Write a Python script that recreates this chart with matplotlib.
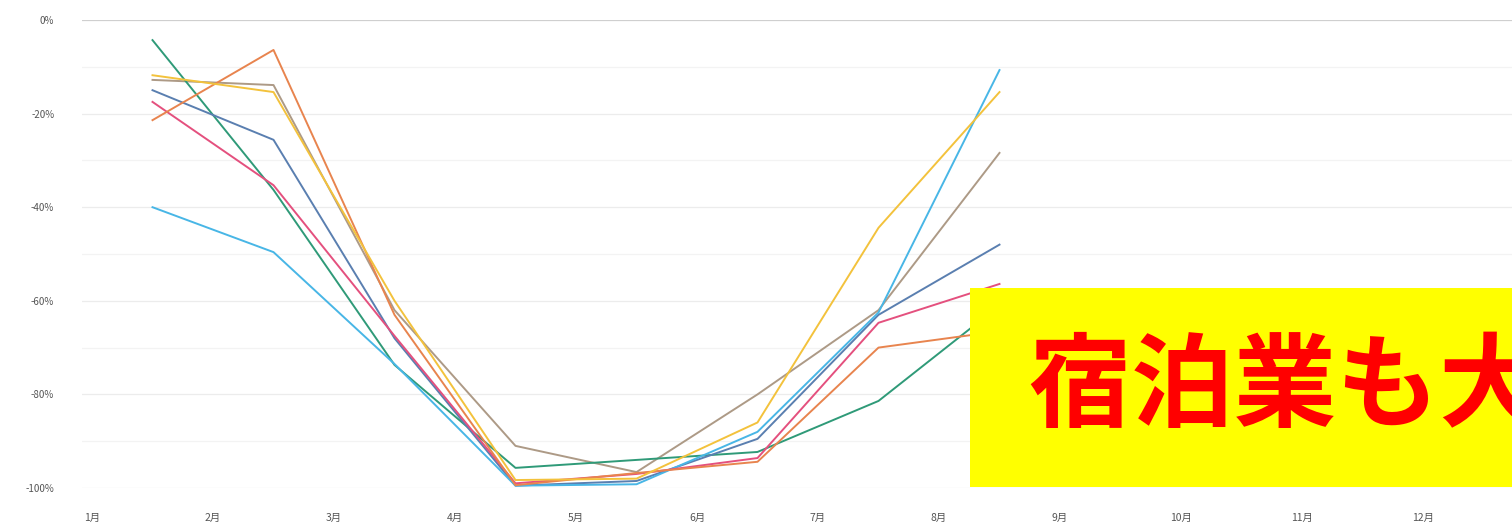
import matplotlib
matplotlib.use("Agg")
import matplotlib.pyplot as plt
from matplotlib.patches import Rectangle

plt.rcParams['font.family'] = ['Noto Sans CJK JP', 'DejaVu Sans']

month_labels = ["1月", "2月", "3月", "4月", "5月", "6月", "7月", "8月", "9月", "10月", "11月", "12月"]
y_ticks = [0, -20, -40, -60, -80, -100]
y_tick_labels = ["0%", "-20%", "-40%", "-60%", "-80%", "-100%"]

# month index of data points (Jan..Aug), values in %
months = [0, 1, 2, 3, 4, 5, 6, 7]
s_cyan = [-40, -49.6, -73.5, -99.5, -99.2, -88, -62.5, -10.7]
s_blue = [-15, -25.6, -68, -99.5, -98.5, -89.5, -63, -48]
s_pink = [-17.5, -35.3, -67.5, -99.0, -97.0, -93.6, -64.7, -56.4]
s_teal = [-4.3, -36.3, -73.7, -95.7, -94.0, -92.3, -81.4, -61]
s_orange = [-21.4, -6.4, -63, -99.4, -96.8, -94.4, -70, -66.5]
s_yellow = [-11.8, -15.4, -60, -98.3, -98.0, -86, -44.4, -15.4]
s_tan = [-12.8, -13.9, -62, -91.0, -96.6, -80, -62, -28.4]

series = [
    (s_tan, "#ad9a86"),
    (s_teal, "#2f9a78"),
    (s_blue, "#5a7fb0"),
    (s_cyan, "#48b6e6"),
    (s_pink, "#e4507e"),
    (s_orange, "#e8844e"),
    (s_yellow, "#f3c23c"),
]

W, H = 1512, 523
fig = plt.figure(figsize=(W / 100, H / 100), dpi=100)
ax = fig.add_axes([82 / W, (H - 488) / H, (W - 82) / W, 468 / H])

xs = [m + 0.5 for m in months]
for vals, col in series:
    ax.plot(xs, vals, color=col, lw=1.4, clip_on=False, zorder=3)

ax.set_xlim((82 - 92) / 121, (W - 92) / 121)
ax.set_ylim(-100, 0)

for v in range(-90, 0, 10):
    ax.axhline(v, color="#f3f3f3" if v % 20 else "#ececec", lw=0.9, zorder=1)
ax.axhline(-100, color="#ececec", lw=0.9, zorder=1)
ax.axhline(0, color="#cfcfcf", lw=1.6, zorder=2)

ax.set_xticks(range(12))
ax.set_xticklabels(month_labels, fontsize=7.5, color="#555555")
ax.set_yticks(y_ticks)
ax.set_yticklabels(y_tick_labels, fontsize=7, color="#555555")
ax.tick_params(length=0)
ax.tick_params(axis='x', pad=18)
ax.tick_params(axis='y', pad=20)
for sp in ax.spines.values():
    sp.set_visible(False)

fig.patches.append(Rectangle((970 / W, (H - 487) / H), (W - 970) / W, 199 / H,
                             transform=fig.transFigure, facecolor="#ffff00",
                             edgecolor="none", zorder=10))
fig.text(1028 / W, (H - 419) / H, "宿泊業も大打撃", color="#ff0000", fontsize=74,
         fontweight="bold", ha="left", va="baseline", zorder=11)

fig.savefig("out.png", dpi=100)
